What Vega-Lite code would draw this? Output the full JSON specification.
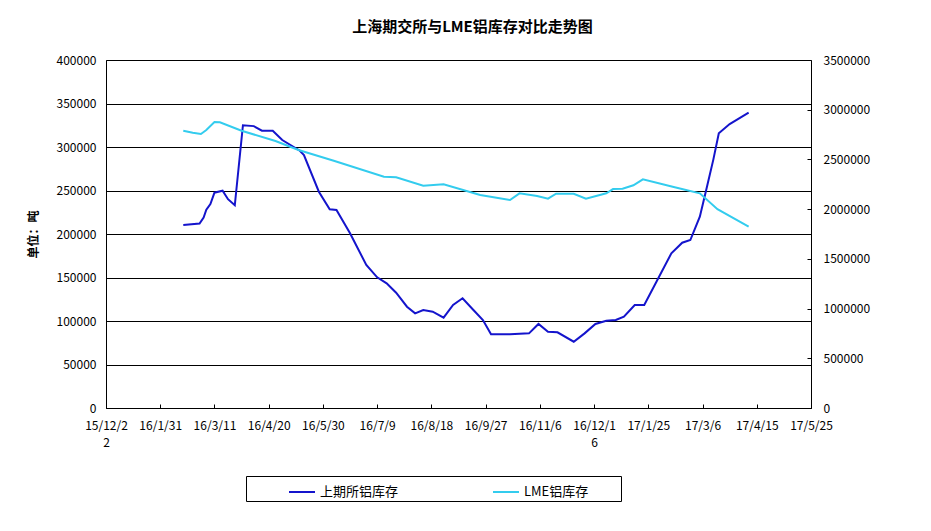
{
  "$schema": "https://vega.github.io/schema/vega-lite/v6.json",
  "width": 705,
  "height": 348,
  "autosize": {"type": "none"},
  "padding": {"left": 106, "top": 60, "right": 120, "bottom": 123},
  "background": "white",
  "title": {
    "text": "上海期交所与LME铝库存对比走势图",
    "font": "Noto Sans CJK SC",
    "fontSize": 15,
    "fontWeight": "bold",
    "color": "black",
    "anchor": "middle",
    "dx": 14,
    "offset": 19
  },
  "config": {
    "view": {"stroke": null},
    "font": "Noto Sans CJK SC",
    "axis": {
      "labelFont": "Noto Sans CJK SC",
      "labelFontSize": 12,
      "labelColor": "black",
      "domainColor": "black",
      "tickColor": "black",
      "gridColor": "black",
      "gridOpacity": 1,
      "tickSize": -4,
      "titleColor": "black"
    },
    "legend": {
      "labelFont": "Noto Sans CJK SC",
      "labelFontSize": 13,
      "labelColor": "black"
    }
  },
  "datasets": {
    "shfe": [
      {"date": "2016-02-17", "v": 210300},
      {"date": "2016-02-29", "v": 212000},
      {"date": "2016-03-03", "v": 219000},
      {"date": "2016-03-05", "v": 228000},
      {"date": "2016-03-08", "v": 234500},
      {"date": "2016-03-11", "v": 247500},
      {"date": "2016-03-17", "v": 249800},
      {"date": "2016-03-21", "v": 240000},
      {"date": "2016-03-26", "v": 233000},
      {"date": "2016-04-01", "v": 325000},
      {"date": "2016-04-09", "v": 324000},
      {"date": "2016-04-15", "v": 318700},
      {"date": "2016-04-23", "v": 318700},
      {"date": "2016-04-30", "v": 308000},
      {"date": "2016-05-13", "v": 295700},
      {"date": "2016-05-16", "v": 290800},
      {"date": "2016-05-27", "v": 248600},
      {"date": "2016-06-04", "v": 228400},
      {"date": "2016-06-09", "v": 227600},
      {"date": "2016-06-19", "v": 200800},
      {"date": "2016-07-01", "v": 164400},
      {"date": "2016-07-09", "v": 150200},
      {"date": "2016-07-16", "v": 143300},
      {"date": "2016-07-23", "v": 132500},
      {"date": "2016-07-31", "v": 116400},
      {"date": "2016-08-06", "v": 108800},
      {"date": "2016-08-12", "v": 112600},
      {"date": "2016-08-19", "v": 110700},
      {"date": "2016-08-27", "v": 103800},
      {"date": "2016-09-03", "v": 118400},
      {"date": "2016-09-10", "v": 126100},
      {"date": "2016-09-18", "v": 112600},
      {"date": "2016-09-25", "v": 101100},
      {"date": "2016-10-01", "v": 84700},
      {"date": "2016-10-15", "v": 84700},
      {"date": "2016-10-29", "v": 85800},
      {"date": "2016-11-05", "v": 96600},
      {"date": "2016-11-12", "v": 87700},
      {"date": "2016-11-19", "v": 87000},
      {"date": "2016-12-01", "v": 76200},
      {"date": "2016-12-09", "v": 85800},
      {"date": "2016-12-17", "v": 96600},
      {"date": "2016-12-25", "v": 100300},
      {"date": "2017-01-01", "v": 101100},
      {"date": "2017-01-07", "v": 105000},
      {"date": "2017-01-15", "v": 118400},
      {"date": "2017-01-22", "v": 118400},
      {"date": "2017-01-31", "v": 145200},
      {"date": "2017-02-11", "v": 177800},
      {"date": "2017-02-19", "v": 190000},
      {"date": "2017-02-25", "v": 193100},
      {"date": "2017-03-04", "v": 219900},
      {"date": "2017-03-09", "v": 252500},
      {"date": "2017-03-14", "v": 285800},
      {"date": "2017-03-18", "v": 315700},
      {"date": "2017-03-26", "v": 326400},
      {"date": "2017-04-09", "v": 339400}
    ],
    "lme": [
      {"date": "2016-02-17", "v": 2789000},
      {"date": "2016-02-24", "v": 2769000},
      {"date": "2016-03-01", "v": 2756000},
      {"date": "2016-03-05", "v": 2796000},
      {"date": "2016-03-11", "v": 2876000},
      {"date": "2016-03-15", "v": 2873000},
      {"date": "2016-03-31", "v": 2789000},
      {"date": "2016-04-25", "v": 2685000},
      {"date": "2016-05-12", "v": 2595000},
      {"date": "2016-06-07", "v": 2487000},
      {"date": "2016-07-14", "v": 2326000},
      {"date": "2016-07-23", "v": 2320000},
      {"date": "2016-08-12", "v": 2236000},
      {"date": "2016-08-27", "v": 2250000},
      {"date": "2016-09-23", "v": 2142000},
      {"date": "2016-10-15", "v": 2092000},
      {"date": "2016-10-22", "v": 2159000},
      {"date": "2016-11-04", "v": 2132000},
      {"date": "2016-11-12", "v": 2105000},
      {"date": "2016-11-18", "v": 2155000},
      {"date": "2016-12-01", "v": 2155000},
      {"date": "2016-12-10", "v": 2105000},
      {"date": "2016-12-25", "v": 2159000},
      {"date": "2016-12-30", "v": 2202000},
      {"date": "2017-01-06", "v": 2205000},
      {"date": "2017-01-14", "v": 2240000},
      {"date": "2017-01-21", "v": 2300000},
      {"date": "2017-02-12", "v": 2226000},
      {"date": "2017-03-04", "v": 2159000},
      {"date": "2017-03-17", "v": 2000000},
      {"date": "2017-04-09", "v": 1823000}
    ]
  },
  "encoding": {
    "x": {
      "field": "date",
      "type": "temporal",
      "scale": {
        "type": "utc",
        "domain": [
          {"year": 2015, "month": 12, "date": 22, "utc": true},
          {"year": 2017, "month": 5, "date": 25, "utc": true}
        ]
      },
      "axis": {
        "title": null,
        "grid": false,
        "labelPadding": 16,
        "labelAngle": 0,
        "labelOverlap": false,
        "labelFlush": false,
        "values": [
          {"year": 2015, "month": 12, "date": 22, "utc": true},
          {"year": 2016, "month": 1, "date": 31, "utc": true},
          {"year": 2016, "month": 3, "date": 11, "utc": true},
          {"year": 2016, "month": 4, "date": 20, "utc": true},
          {"year": 2016, "month": 5, "date": 30, "utc": true},
          {"year": 2016, "month": 7, "date": 9, "utc": true},
          {"year": 2016, "month": 8, "date": 18, "utc": true},
          {"year": 2016, "month": 9, "date": 27, "utc": true},
          {"year": 2016, "month": 11, "date": 6, "utc": true},
          {"year": 2016, "month": 12, "date": 16, "utc": true},
          {"year": 2017, "month": 1, "date": 25, "utc": true},
          {"year": 2017, "month": 3, "date": 6, "utc": true},
          {"year": 2017, "month": 4, "date": 15, "utc": true},
          {"year": 2017, "month": 5, "date": 25, "utc": true}
        ],
        "labelExpr": "utcFormat(datum.value, '%y/%-m/%-d') == '15/12/22' ? ['15/12/2', '2'] : (utcFormat(datum.value, '%y/%-m/%-d') == '16/12/16' ? ['16/12/1', '6'] : utcFormat(datum.value, '%y/%-m/%-d'))",
        "labelLineHeight": 17
      }
    }
  },
  "layer": [
    {
      "data": {"name": "shfe"},
      "mark": {"type": "line", "strokeWidth": 2},
      "encoding": {
        "y": {
          "field": "v",
          "type": "quantitative",
          "scale": {"domain": [0, 400000], "nice": false},
          "axis": {
            "title": "单位：吨",
            "titleFontWeight": "bold",
            "titleFontSize": 12,
            "titlePadding": 16,
            "orient": "left",
            "values": [0, 50000, 100000, 150000, 200000, 250000, 300000, 350000, 400000],
            "format": "d",
            "grid": true,
            "labelPadding": 14
          }
        },
        "color": {
          "datum": "上期所铝库存",
          "type": "nominal",
          "scale": {"domain": ["上期所铝库存", "LME铝库存"], "range": ["#1414CC", "#33CCEE"]},
          "legend": {
            "title": null,
            "orient": "none",
            "legendX": 140,
            "legendY": 416,
            "direction": "horizontal",
            "symbolType": "stroke",
            "symbolSize": 676,
            "symbolStrokeWidth": 2,
            "strokeColor": "black",
            "padding": 2,
            "symbolOffset": 40,
            "columnPadding": 53,
            "labelOffset": 4,
            "labelExpr": "datum.value == 'LME铝库存' ? datum.label + '\u2800\u2800\u2800' : datum.label"
          }
        }
      }
    },
    {
      "data": {"name": "lme"},
      "mark": {"type": "line", "strokeWidth": 2},
      "encoding": {
        "y": {
          "field": "v",
          "type": "quantitative",
          "scale": {"domain": [0, 3500000], "nice": false},
          "axis": {
            "title": null,
            "orient": "right",
            "values": [0, 500000, 1000000, 1500000, 2000000, 2500000, 3000000, 3500000],
            "format": "d",
            "grid": false,
            "labelPadding": 16
          }
        },
        "color": {"datum": "LME铝库存", "type": "nominal"}
      }
    }
  ],
  "resolve": {"scale": {"y": "independent"}}
}
